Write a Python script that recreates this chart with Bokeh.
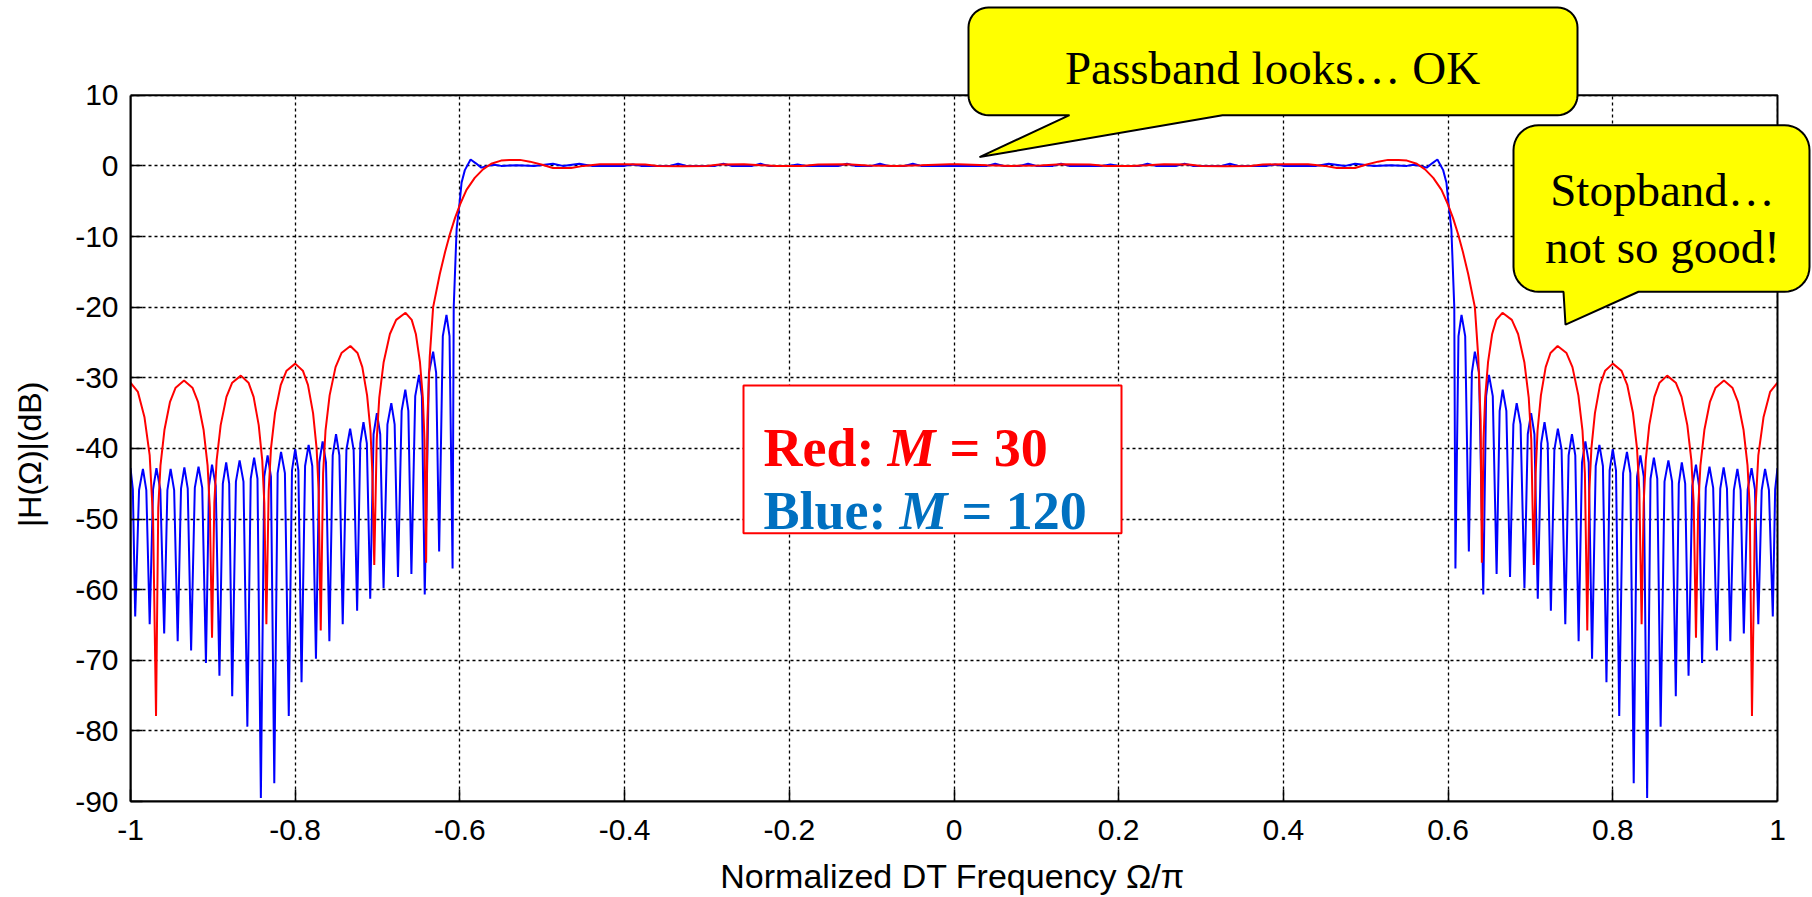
import math
from bokeh.plotting import figure
from bokeh.models import (Range1d, FixedTicker, Label, BoxAnnotation, PolyAnnotation)
from bokeh.embed import file_html
from bokeh.resources import INLINE

# ---------------- data (left half; response is even) ----
red_omega = [-1.0, -0.991, -0.983, -0.9767, -0.9726, -0.969,
             -0.9663, -0.9636, -0.9588, -0.952, -0.9452, -0.935, -0.9248, -0.918, -0.9112, -0.9064, -0.9037, -0.901,
             -0.8982, -0.8954, -0.8905, -0.8835, -0.8765, -0.866, -0.8567, -0.8505, -0.8443, -0.84, -0.8375, -0.835,
             -0.8322, -0.8294, -0.8245, -0.8175, -0.8105, -0.800, -0.7907, -0.7845, -0.7783, -0.774, -0.7715, -0.769,
             -0.7661, -0.7632, -0.7582, -0.751, -0.7438, -0.733, -0.7243, -0.7185, -0.7127, -0.7086, -0.7063, -0.704,
             -0.701, -0.6979, -0.6926, -0.685, -0.6774, -0.666, -0.6585, -0.6535, -0.6485, -0.645, -0.643, -0.641,
             -0.6395, -0.6366, -0.6325, -0.6244, -0.618, -0.612, -0.606, -0.600, -0.592, -0.582,
             -0.572, -0.562, -0.550, -0.540, -0.527, -0.515, -0.500, -0.487, -0.465, -0.450,
             -0.430, -0.400, -0.375, -0.360, -0.330, -0.300, -0.285, -0.255, -0.235, -0.215,
             -0.185, -0.165, -0.130, -0.105, -0.070, -0.040, -0.005]
red_db = [-30.7, -32.0, -35.6, -41.0, -50.0, -77.9,
          -48.4, -42.4, -37.4, -33.4, -31.4, -30.4, -31.4, -33.4, -37.4, -42.4, -48.4, -66.8,
          -47.7, -41.7, -36.7, -32.7, -30.7, -29.7, -30.7, -32.7, -36.7, -41.7, -47.7, -64.9,
          -46.0, -40.0, -35.0, -31.0, -29.0, -28.0, -29.0, -31.0, -35.0, -40.0, -46.0, -65.8,
          -43.5, -37.5, -32.5, -28.5, -26.5, -25.5, -26.5, -28.5, -32.5, -37.5, -43.5, -56.5,
          -38.8, -32.8, -27.8, -23.8, -21.8, -20.8, -21.8, -23.8, -27.8, -32.8, -38.8, -56.2,
          -36.0, -27.0, -20.0, -15.3, -12.2, -9.6, -7.4, -5.5, -3.4, -1.7,
          -0.5, 0.3, 0.75, 0.85, 0.85, 0.6, 0.15, -0.3, -0.3, 0.0,
          0.24, 0.24, 0.2, 0.0, -0.05, 0.0, 0.2, 0.24, 0.1, 0.0,
          0.0, 0.2, 0.24, 0.05, 0.0, 0.1, 0.24]

blue_omega = [-1.0, -0.99715, -0.9943, -0.9896, -0.9849, -0.9808, -0.9767, -0.9726, -0.9685, -0.9638,
              -0.9591, -0.9552, -0.9513, -0.947, -0.9427, -0.93865, -0.9346, -0.9305, -0.9264, -0.9219,
              -0.9174, -0.9129, -0.9084, -0.9047, -0.901, -0.8965, -0.892, -0.8879, -0.8838, -0.88015,
              -0.8765, -0.872, -0.8675, -0.8628, -0.8581, -0.854, -0.8499, -0.8458, -0.8417, -0.8376,
              -0.8335, -0.82945, -0.8254, -0.8213, -0.8172, -0.8125, -0.8078, -0.8039, -0.800, -0.79615,
              -0.7923, -0.788, -0.7837, -0.77925, -0.7748, -0.77075, -0.7667, -0.7626, -0.7585, -0.75445,
              -0.7504, -0.74635, -0.7423, -0.7378, -0.7333, -0.72905, -0.7248, -0.72095, -0.7171, -0.713,
              -0.7089, -0.70485, -0.7008, -0.69675, -0.6927, -0.688, -0.6833, -0.67925, -0.6752, -0.67075,
              -0.6663, -0.6626, -0.6589, -0.65425, -0.6496, -0.64615, -0.6427, -0.6376, -0.6325, -0.62885,
              -0.6252, -0.62075, -0.6163, -0.6126, -0.6089, -0.6075, -0.604, -0.600, -0.598, -0.594,
              -0.587, -0.581, -0.574, -0.566, -0.558, -0.550, -0.530, -0.510, -0.487, -0.475,
              -0.455, -0.440, -0.400, -0.390, -0.380, -0.345, -0.335, -0.325, -0.290, -0.280,
              -0.270, -0.245, -0.235, -0.225, -0.200, -0.190, -0.180, -0.140, -0.130, -0.120,
              -0.100, -0.090, -0.080, -0.060, -0.050, -0.040, -0.005]
blue_db = [-42.8, -45.8, -63.8, -45.9, -42.9, -45.9, -64.9, -45.8, -42.8, -45.8,
           -66.2, -45.9, -42.9, -45.9, -67.3, -45.7, -42.7, -45.7, -68.6, -45.6,
           -42.6, -45.6, -70.4, -45.3, -42.3, -45.3, -72.2, -45.0, -42.0, -45.0,
           -75.1, -44.7, -41.7, -44.7, -79.4, -44.3, -41.3, -44.3, -89.5, -44.0,
           -41.0, -44.0, -87.4, -43.5, -40.5, -43.5, -77.9, -43.1, -40.1, -43.1,
           -73.1, -42.5, -39.5, -42.5, -69.8, -42.0, -39.0, -42.0, -67.3, -41.0,
           -38.0, -41.0, -64.9, -40.2, -37.2, -40.2, -63.0, -39.3, -36.3, -39.3,
           -61.3, -38.0, -35.0, -38.0, -59.8, -36.6, -33.6, -36.6, -58.2, -34.7,
           -31.7, -34.7, -57.8, -32.6, -29.6, -32.6, -60.7, -29.3, -26.3, -29.3,
           -54.6, -24.1, -21.1, -24.1, -57.0, -20.0, -9.0, -4.8, -2.4, -0.6,
           0.9, 0.4, -0.25, 0.0, 0.15, 0.0, 0.1, 0.0, 0.3, 0.0,
           0.3, 0.0, 0.0, 0.2, 0.0, 0.0, 0.3, 0.0, 0.0, 0.3,
           0.0, 0.0, 0.3, 0.0, 0.0, 0.2, 0.0, 0.0, 0.3, 0.0,
           0.0, 0.3, 0.0, 0.0, 0.3, 0.0, 0.0]

x_ticks = [-1, -0.8, -0.6, -0.4, -0.2, 0, 0.2, 0.4, 0.6, 0.8, 1]
x_tick_labels = ["-1", "-0.8", "-0.6", "-0.4", "-0.2", "0", "0.2", "0.4", "0.6", "0.8", "1"]
y_ticks = [10, 0, -10, -20, -30, -40, -50, -60, -70, -80, -90]
y_tick_labels = ["10", "0", "-10", "-20", "-30", "-40", "-50", "-60", "-70", "-80", "-90"]
x_title = "Normalized DT Frequency Ω/π"
y_title = "|H(Ω)|(dB)"

assert len(red_omega) == len(red_db) and len(blue_omega) == len(blue_db)


def full_curve(xs, ys):
    # the magnitude response is even in omega: right half mirrors the left half
    return xs + [-v for v in reversed(xs)], ys + list(reversed(ys))


red_x, red_y = full_curve(red_omega, red_db)
blue_x, blue_y = full_curve(blue_omega, blue_db)

# ---------------- layout ----------------
W, H = 1812, 897
BOX_L, BOX_R, BOX_T, BOX_B = 130, 1777, 95, 803        # plot box in page pixels
X0, X1, Y0, Y1 = x_ticks[0], x_ticks[-1], y_ticks[-1], y_ticks[0]
KX = (BOX_R - BOX_L) / (X1 - X0)
KY = (BOX_B - BOX_T) / (Y1 - Y0)
NBSP = "\u00a0"


def dx(px):
    return X0 + (px - BOX_L) / KX


def dy(py):
    return Y1 - (py - BOX_T) / KY


# frame reaches the top and right page edges so the call-outs can sit there
p = figure(width=W, height=H, x_range=Range1d(X0, dx(W)), y_range=Range1d(Y0, dy(0)),
           output_backend="svg", toolbar_location=None,
           min_border_left=BOX_L, min_border_right=0,
           min_border_top=0, min_border_bottom=H - BOX_B)
p.background_fill_color = "white"
p.border_fill_color = "white"
p.outline_line_color = None

xt = FixedTicker(ticks=x_ticks)
yt = FixedTicker(ticks=y_ticks)

for ax, tk, labs, bnd in ((p.xaxis[0], xt, dict(zip(x_ticks, x_tick_labels)), (X0, X1)),
                          (p.yaxis[0], yt, dict(zip(y_ticks, y_tick_labels)), (Y0, Y1))):
    ax.ticker = tk
    ax.bounds = bnd
    ax.major_label_overrides = labs
    ax.major_tick_in = 12
    ax.major_tick_out = 0
    ax.minor_tick_line_color = None
    ax.major_tick_line_width = 1.5
    ax.axis_line_width = 2
    ax.major_label_text_font = "Liberation Sans"
    ax.major_label_text_font_size = "30px"
    ax.major_label_text_color = "black"
    ax.axis_label_text_font = "Liberation Sans"
    ax.axis_label_text_font_style = "normal"
    ax.axis_label_text_color = "black"

# axis titles are centred on the (extended) frame; trailing no-break spaces
# move them back to the centre of the plot box
p.xaxis[0].axis_label = x_title + NBSP * 4
p.xaxis[0].axis_label_text_font_size = "34px"
p.xaxis[0].major_label_standoff = 18
p.xaxis[0].axis_label_standoff = 14
p.yaxis[0].axis_label = y_title + NBSP * 12
p.yaxis[0].axis_label_text_font_size = "32px"
p.yaxis[0].major_label_standoff = 12
p.yaxis[0].axis_label_standoff = 24

for g, tk, cb in ((p.xgrid[0], xt, (Y0, Y1)), (p.ygrid[0], yt, (X0, X1))):
    g.ticker = tk
    g.grid_line_color = "black"
    g.grid_line_width = 1.3
    g.grid_line_dash = "3 3"
    if "cross_bounds" in g.properties():
        g.cross_bounds = cb

p.line(blue_x, blue_y, line_color="#0000FF", line_width=2)
p.line(red_x, red_y, line_color="#FF0000", line_width=2)

# white margins above / right of the plot box (hide grid beyond the box)
p.add_layout(BoxAnnotation(left=dx(-20), right=dx(W + 20), bottom=Y1, top=dy(-20),
                           fill_color="white", fill_alpha=1.0, line_color=None))
p.add_layout(BoxAnnotation(left=X1, right=dx(W + 20), bottom=dy(H + 20), top=dy(-20),
                           fill_color="white", fill_alpha=1.0, line_color=None))
# plot box
p.add_layout(BoxAnnotation(left=X0, right=X1, bottom=Y0, top=Y1, fill_color=None,
                           line_color="black", line_width=2, line_alpha=1.0))

# ---------------- legend box ----------------
p.add_layout(BoxAnnotation(left=dx(743), right=dx(1121), top=dy(386), bottom=dy(534),
                           fill_color="white", fill_alpha=1.0,
                           line_color="#FF0000", line_width=2, line_alpha=1.0))

LEG = dict(x_units="data", y_units="data", text_font="Liberation Serif",
           text_font_size="54px", text_baseline="alphabetic", text_align="left")
for txt, px, py, col, sty in (("Red:", 763, 449, "#FF0000", "bold"),
                              ("M", 887, 449, "#FF0000", "bold italic"),
                              ("= 30", 949, 449, "#FF0000", "bold"),
                              ("Blue:", 763, 512, "#0070C0", "bold"),
                              ("M", 899, 512, "#0070C0", "bold italic"),
                              ("= 120", 961, 512, "#0070C0", "bold")):
    p.add_layout(Label(x=dx(px), y=dy(py), text=txt, text_color=col,
                       text_font_style=sty, **LEG))


# ---------------- callouts ----------------
def callout(x0, y0, x1, y1, r, base_a, base_b, tip, n=10):
    pts = []

    def arc(cx, cy, a0, a1):
        for i in range(n + 1):
            t = a0 + (a1 - a0) * i / n
            pts.append((cx + r * math.cos(t), cy + r * math.sin(t)))

    arc(x0 + r, y0 + r, math.pi, 1.5 * math.pi)
    arc(x1 - r, y0 + r, 1.5 * math.pi, 2 * math.pi)
    arc(x1 - r, y1 - r, 0, 0.5 * math.pi)
    pts += [(base_b, y1), tip, (base_a, y1)]
    arc(x0 + r, y1 - r, 0.5 * math.pi, math.pi)
    return [dx(a) for a, _ in pts], [dy(b) for _, b in pts]


for spec in ((968, 7, 1577, 115, 20, 1069, 1222, (979, 157)),
             (1513, 125, 1809, 292, 25, 1563, 1638, (1565, 325))):
    xs, ys = callout(*spec)
    p.add_layout(PolyAnnotation(xs=xs, ys=ys, xs_units="data", ys_units="data",
                                fill_color="#FFFF00", fill_alpha=1.0,
                                line_color="black", line_width=2, line_alpha=1.0))

CAL = dict(x_units="data", y_units="data", text_font="Liberation Serif",
           text_font_size="47px", text_baseline="alphabetic", text_align="center",
           text_color="black")
p.add_layout(Label(x=dx(1272), y=dy(68), text="Passband looks… OK", **CAL))
p.add_layout(Label(x=dx(1662), y=dy(190), text="Stopband…", **CAL))
p.add_layout(Label(x=dx(1662), y=dy(247), text="not so good!", **CAL))

open("out.html", "w").write(file_html(p, INLINE))
